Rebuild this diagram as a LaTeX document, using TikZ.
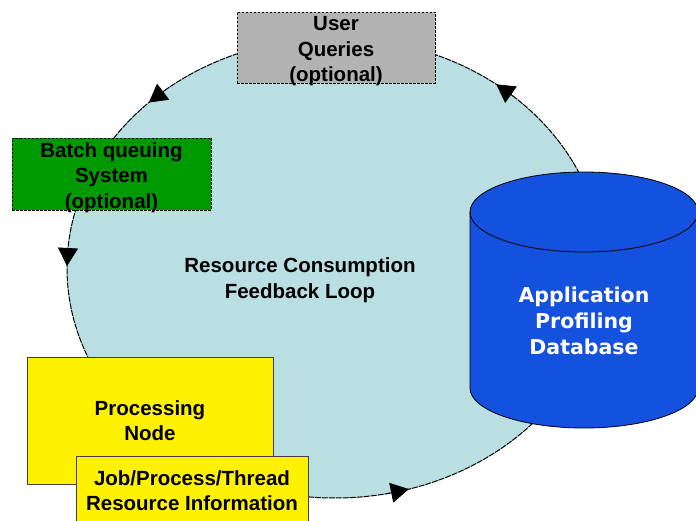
\documentclass[tikz,border=0pt]{standalone}
\usepackage{fontspec}
\setmainfont{Liberation Sans}
\newfontfamily\dbfont{DejaVu Sans}
\usetikzlibrary{arrows.meta}
\definecolor{loopblue}{RGB}{185,223,227}
\definecolor{qgray}{RGB}{179,179,179}
\definecolor{bgreen}{RGB}{0,153,0}
\definecolor{dbblue}{RGB}{19,81,222}
\begin{document}
\begin{tikzpicture}[x=1pt,y=-1pt,
  lbl/.style={font=\fontsize{20.5}{25.5}\selectfont\bfseries, align=center},
  optbox/.style={draw=black, line width=0.8pt, dash pattern=on 2.5pt off 1.5pt, inner sep=0pt, lbl},
  ybox/.style={draw=black!75, line width=1pt, fill=yellow, inner sep=0pt, lbl},
  looparrow/.style={-{Triangle[length=18pt,width=20pt]}, line width=0.7pt}]
\useasboundingbox (0,0) rectangle (696,521);
\clip (0,0) rectangle (696,521);
\fill[white] (0,0) rectangle (696,521);
% feedback loop
\draw[fill=loopblue, line width=1pt, dash pattern=on 6pt off 1pt] (335,268) ellipse [x radius=268, y radius=230];
\node[lbl] (fb) at (300,280) {Resource Consumption\\Feedback Loop};
% arrow tips on the loop (counterclockwise on screen)
\coordinate (a1s) at ({335+268*cos(231)},{268+230*sin(231)});
\coordinate (a1e) at ({335+268*cos(226)},{268+230*sin(226)});
\coordinate (a2s) at ({335+268*cos(185)},{268+230*sin(185)});
\coordinate (a2e) at ({335+268*cos(180.5)},{268+230*sin(180.5)});
\coordinate (a3s) at ({335+268*cos(79)},{268+230*sin(79)});
\coordinate (a3e) at ({335+268*cos(74)},{268+230*sin(74)});
\coordinate (a4s) at ({335+268*cos(312)},{268+230*sin(312)});
\coordinate (a4e) at ({335+268*cos(307)},{268+230*sin(307)});
\draw[looparrow] (a1s) -- (a1e);
\draw[looparrow] (a2s) -- (a2e);
\draw[looparrow] (a3s) -- (a3e);
\draw[looparrow] (a4s) -- (a4e);
% boxes
\node[optbox, fill=qgray, minimum width=198pt, minimum height=71pt] (uq) at (336,47.5) {\rule{0pt}{18pt}User\\Queries\\\smash{(optional)}};
\node[optbox, fill=bgreen, minimum width=199pt, minimum height=72pt] (bq) at (111.5,174) {\rule{0pt}{18pt}Batch queuing\\System\\\smash{(optional)}};
\node[ybox, minimum width=246pt, minimum height=127pt] (pn) at (150,420.5) {Processing\\Node};
\node[ybox, minimum width=232pt, minimum height=69pt] (jp) at (192,490.5) {Job/Process/Thread\\Resource Information};
% database cylinder
\draw[fill=dbblue, line width=0.8pt] (470,212) -- (470,388)
  arc[start angle=180, end angle=0, x radius=114, y radius=40] -- (698,212)
  arc[start angle=0, end angle=-180, x radius=114, y radius=40] -- cycle;
\draw[line width=0.8pt] (470,212) arc[start angle=180, end angle=0, x radius=114, y radius=40];
\node[font=\dbfont\bfseries\fontsize{20.5}{26}\selectfont, text=white, align=center] (db) at (584,321) {Application\\Profiling\\Database};
\end{tikzpicture}
\end{document}
